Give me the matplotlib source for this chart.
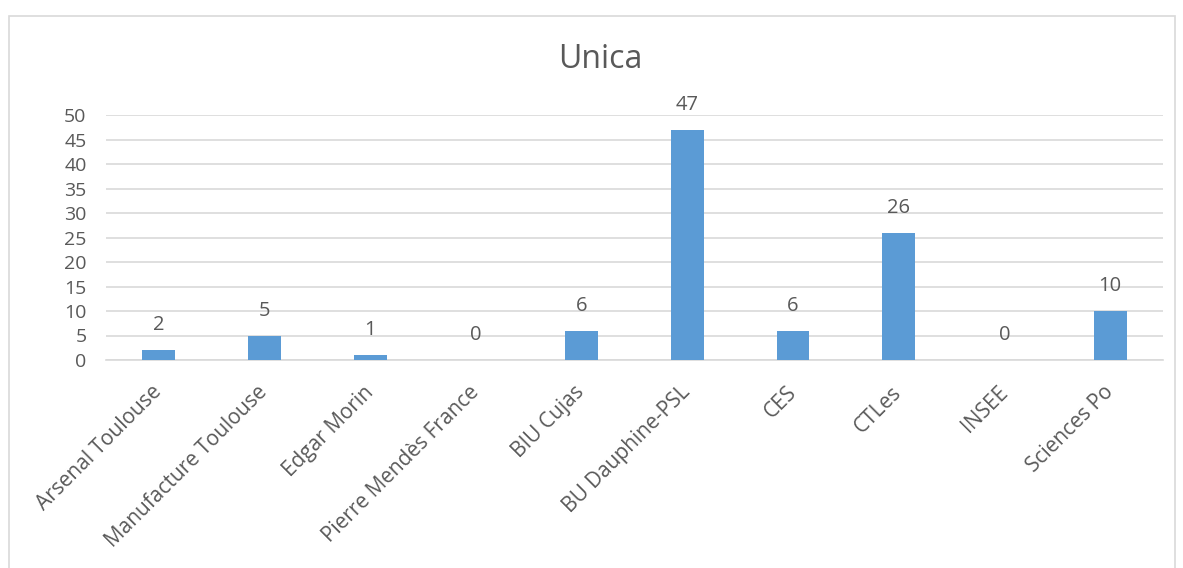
import matplotlib.pyplot as plt
import numpy as np
from matplotlib.patches import Rectangle

# Data
categories = ['Arsenal Toulouse', 'Manufacture Toulouse', 'Edgar Morin',
              'Pierre Mendès France', 'BIU Cujas', 'BU Dauphine-PSL',
              'CES', 'CTLes', 'INSEE', 'Sciences Po']
values = [2, 5, 1, 0, 6, 47, 6, 26, 0, 10]
y_ticks = [0, 5, 10, 15, 20, 25, 30, 35, 40, 45, 50]
title = 'Unica'

text_color = '#595959'
grid_color = '#D9D9D9'
bar_color = '#5B9BD5'

plt.rcParams['font.family'] = ['Open Sans', 'DejaVu Sans']

W, H = 1183, 568
fig = plt.figure(figsize=(W / 100, H / 100), dpi=100)

# outer chart border
fig.patches.append(Rectangle((8.5 / W, -0.01), (1175 - 8.5) / W, 1 - 16.5 / H + 0.01,
                             transform=fig.transFigure, fill=False,
                             edgecolor=grid_color, linewidth=1.2))

left, right, top, bottom = 106, 1163, 115, 360
ax = fig.add_axes([left / W, 1 - bottom / H, (right - left) / W, (bottom - top) / H])

x = np.arange(len(categories))
ax.bar(x, values, width=0.31, color=bar_color, zorder=3)

# value labels above bars
for xi, v in zip(x, values):
    ax.annotate(str(v), (xi, v), xytext=(0, 18), textcoords='offset points',
                ha='center', va='center', fontsize=14.5, color=text_color)

ax.set_xlim(-0.5, len(categories) - 0.5)
ax.set_ylim(0, 50)
ax.set_yticks(y_ticks)
ax.set_yticklabels([str(t) for t in y_ticks], fontsize=14, color=text_color)
ax.yaxis.grid(True, color=grid_color, linewidth=1.2, zorder=0)
ax.set_axisbelow(True)

ax.set_xticks(x)
ax.set_xticklabels(categories, rotation=45, ha='right', va='center',
                   rotation_mode='anchor', fontsize=15, color=text_color)
ax.tick_params(axis='both', length=0)
ax.tick_params(axis='y', pad=14)
ax.tick_params(axis='x', pad=21)

for s in ['top', 'right', 'left']:
    ax.spines[s].set_visible(False)
ax.spines['bottom'].set_color(grid_color)
ax.spines['bottom'].set_linewidth(1.2)

fig.text(600 / W, 1 - 60 / H, title, ha='center', va='center',
         fontsize=23, color=text_color)

fig.savefig('out.png', dpi=100)
